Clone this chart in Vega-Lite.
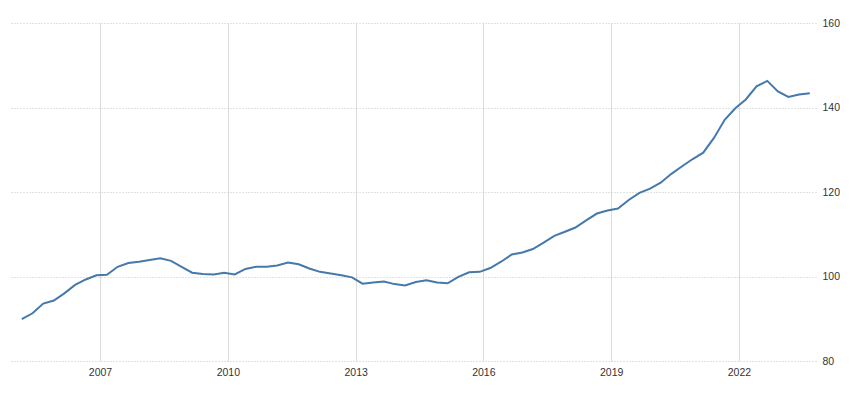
{
  "$schema": "https://vega.github.io/schema/vega-lite/v6.json",
  "width": 806,
  "height": 338,
  "autosize": "none",
  "padding": {"left": 10, "top": 23, "right": 34, "bottom": 44},
  "background": "white",
  "config": {"view": {"stroke": null}},
  "data": {"values": [
    {"date": "2005-03-01", "value": 89.9},
    {"date": "2005-06-01", "value": 91.3},
    {"date": "2005-09-01", "value": 93.6},
    {"date": "2005-12-01", "value": 94.3},
    {"date": "2006-03-01", "value": 96.0},
    {"date": "2006-06-01", "value": 98.0},
    {"date": "2006-09-01", "value": 99.3},
    {"date": "2006-12-01", "value": 100.3},
    {"date": "2007-03-01", "value": 100.4},
    {"date": "2007-06-01", "value": 102.3},
    {"date": "2007-09-01", "value": 103.2},
    {"date": "2007-12-01", "value": 103.5},
    {"date": "2008-03-01", "value": 103.9},
    {"date": "2008-06-01", "value": 104.3},
    {"date": "2008-09-01", "value": 103.7},
    {"date": "2008-12-01", "value": 102.3},
    {"date": "2009-03-01", "value": 100.9},
    {"date": "2009-06-01", "value": 100.6},
    {"date": "2009-09-01", "value": 100.5},
    {"date": "2009-12-01", "value": 100.9},
    {"date": "2010-03-01", "value": 100.5},
    {"date": "2010-06-01", "value": 101.8},
    {"date": "2010-09-01", "value": 102.3},
    {"date": "2010-12-01", "value": 102.3},
    {"date": "2011-03-01", "value": 102.6},
    {"date": "2011-06-01", "value": 103.3},
    {"date": "2011-09-01", "value": 102.9},
    {"date": "2011-12-01", "value": 101.9},
    {"date": "2012-03-01", "value": 101.1},
    {"date": "2012-06-01", "value": 100.7},
    {"date": "2012-09-01", "value": 100.3},
    {"date": "2012-12-01", "value": 99.8},
    {"date": "2013-03-01", "value": 98.3},
    {"date": "2013-06-01", "value": 98.6},
    {"date": "2013-09-01", "value": 98.8},
    {"date": "2013-12-01", "value": 98.2},
    {"date": "2014-03-01", "value": 97.9},
    {"date": "2014-06-01", "value": 98.7},
    {"date": "2014-09-01", "value": 99.1},
    {"date": "2014-12-01", "value": 98.6},
    {"date": "2015-03-01", "value": 98.4},
    {"date": "2015-06-01", "value": 99.9},
    {"date": "2015-09-01", "value": 101.0},
    {"date": "2015-12-01", "value": 101.1},
    {"date": "2016-03-01", "value": 102.0},
    {"date": "2016-06-01", "value": 103.5},
    {"date": "2016-09-01", "value": 105.2},
    {"date": "2016-12-01", "value": 105.7},
    {"date": "2017-03-01", "value": 106.5},
    {"date": "2017-06-01", "value": 108.0},
    {"date": "2017-09-01", "value": 109.6},
    {"date": "2017-12-01", "value": 110.6},
    {"date": "2018-03-01", "value": 111.6},
    {"date": "2018-06-01", "value": 113.3},
    {"date": "2018-09-01", "value": 114.9},
    {"date": "2018-12-01", "value": 115.6},
    {"date": "2019-03-01", "value": 116.1},
    {"date": "2019-06-01", "value": 118.1},
    {"date": "2019-09-01", "value": 119.8},
    {"date": "2019-12-01", "value": 120.8},
    {"date": "2020-03-01", "value": 122.2},
    {"date": "2020-06-01", "value": 124.3},
    {"date": "2020-09-01", "value": 126.1},
    {"date": "2020-12-01", "value": 127.8},
    {"date": "2021-03-01", "value": 129.3},
    {"date": "2021-06-01", "value": 132.8},
    {"date": "2021-09-01", "value": 137.1},
    {"date": "2021-12-01", "value": 139.8},
    {"date": "2022-03-01", "value": 141.9},
    {"date": "2022-06-01", "value": 145.0},
    {"date": "2022-09-01", "value": 146.3},
    {"date": "2022-12-01", "value": 143.8},
    {"date": "2023-03-01", "value": 142.5},
    {"date": "2023-06-01", "value": 143.1},
    {"date": "2023-09-01", "value": 143.4}
  ]},
  "mark": {"type": "line", "color": "#4579ac", "strokeWidth": 2, "interpolate": "linear"},
  "encoding": {
    "x": {
      "field": "date",
      "type": "temporal",
      "scale": {
        "type": "utc",
        "domain": [
          {"year": 2004, "month": 11, "date": 20, "utc": true},
          {"year": 2023, "month": 10, "date": 24, "utc": true}
        ]
      },
      "axis": {
        "title": null,
        "format": "%Y",
        "formatType": "utc",
        "tickCount": {"interval": "year", "step": 3},
        "domain": false,
        "ticks": false,
        "grid": true,
        "gridColor": "#dcdcdc",
        "gridWidth": 1,
        "labelPadding": 6,
        "labelFont": "Liberation Sans",
        "labelFontSize": 10.5,
        "labelColor": "#333333",
        "labelFlush": false
      }
    },
    "y": {
      "field": "value",
      "type": "quantitative",
      "scale": {"domain": [80, 160], "nice": false, "zero": false},
      "axis": {
        "title": null,
        "orient": "right",
        "values": [80, 100, 120, 140, 160],
        "domain": false,
        "ticks": false,
        "grid": true,
        "gridColor": "#c4c4c4",
        "gridDash": [1, 2],
        "gridWidth": 1,
        "labelPadding": 6,
        "labelFont": "Liberation Sans",
        "labelFontSize": 10.5,
        "labelColor": "#333333",
        "labelBaseline": "middle",
        "labelFlush": false
      }
    }
  }
}
